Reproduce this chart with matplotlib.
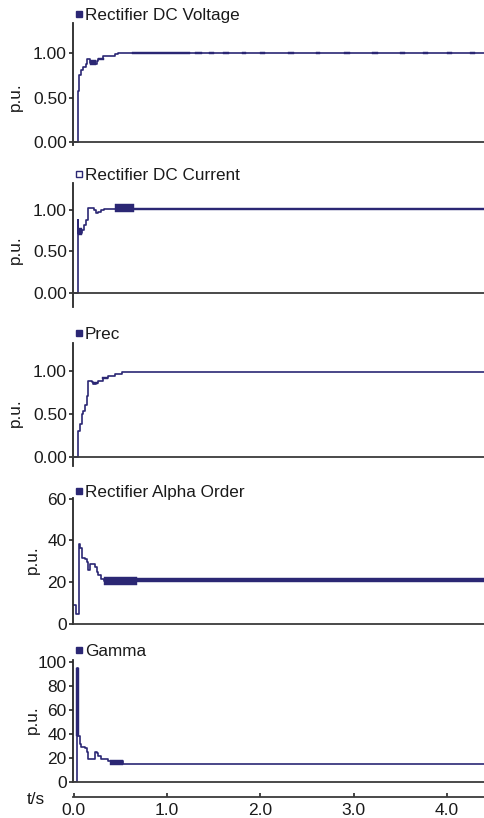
import matplotlib
matplotlib.use("Agg")
import matplotlib.pyplot as plt

plt.rcParams["font.family"] = ["Liberation Sans", "DejaVu Sans"]

NAVY = "#2b2774"
AXIS = "#262626"

# ---------------- data ----------------
titles = ["Rectifier DC Voltage", "Rectifier DC Current", "Prec",
          "Rectifier Alpha Order", "Gamma"]

vdc_t = [0, 0.04, 0.057, 0.075, 0.10, 0.125, 0.143, 0.172, 0.207, 0.243,
         0.261, 0.315, 0.44, 0.476, 4.4]
vdc_v = [0, 0.58, 0.75, 0.81, 0.84, 0.88, 0.93, 0.89, 0.88, 0.91,
         0.93, 0.966, 0.99, 1.0, 1.0]

idc_t = [0, 0.04, 0.046, 0.082, 0.111, 0.129, 0.147, 0.154, 0.218, 0.232,
         0.261, 0.286, 0.325, 4.4]
idc_v = [0, 0.88, 0.72, 0.76, 0.82, 0.88, 0.96, 1.02, 1.0, 0.96,
         0.98, 1.0, 1.01, 1.01]

prec_t = [0, 0.04, 0.046, 0.064, 0.082, 0.100, 0.118, 0.136, 0.147, 0.154,
          0.19, 0.207, 0.24, 0.261, 0.315, 0.368, 0.44, 0.511, 0.62, 4.4]
prec_v = [0, 0.17, 0.30, 0.38, 0.50, 0.53, 0.60, 0.71, 0.79, 0.88,
          0.87, 0.85, 0.86, 0.88, 0.92, 0.94, 0.96, 0.98, 0.99, 0.99]

alpha_t = [0, 0.025, 0.05, 0.065, 0.082, 0.118, 0.136, 0.147, 0.172, 0.225,
           0.243, 0.261, 0.29, 0.32, 4.4]
alpha_v = [9, 5, 38.5, 36.5, 31.5, 31, 29.5, 26, 28.5, 27.5,
           25, 23.5, 21.5, 20.8, 20.8]

gamma_t = [0, 0.03, 0.046, 0.064, 0.075, 0.118, 0.136, 0.154, 0.225, 0.243,
           0.261, 0.286, 0.365, 0.53, 4.4]
gamma_v = [0, 95, 38, 32, 29.5, 28, 25, 19, 25, 24,
           22, 19, 17.5, 15, 15]

# chattering segments: (t_start, t_end, low, high)
vdc_bands = [(0.17, 0.24, 0.87, 0.92), (0.26, 0.32, 0.92, 0.95),
             (0.62, 1.25, 0.99, 1.015),
             (1.30, 1.37, 0.99, 1.015), (1.45, 1.50, 0.99, 1.015),
             (1.60, 1.66, 0.99, 1.015), (1.80, 1.85, 0.99, 1.015),
             (2.00, 2.05, 0.99, 1.015), (2.30, 2.36, 0.99, 1.015),
             (2.60, 2.64, 0.99, 1.015), (2.90, 2.96, 0.99, 1.015),
             (3.20, 3.26, 0.99, 1.015), (3.50, 3.55, 0.99, 1.015),
             (3.75, 3.80, 0.99, 1.015), (4.00, 4.06, 0.99, 1.015),
             (4.25, 4.30, 0.99, 1.015)]
idc_bands = [(0.046, 0.082, 0.70, 0.78), (0.44, 0.64, 0.98, 1.07),
             (0.64, 4.4, 0.995, 1.02)]
prec_bands = [(0.207, 0.26, 0.84, 0.87), (0.30, 0.37, 0.90, 0.93)]
alpha_bands = [(0.32, 0.68, 18.5, 22.5), (0.68, 4.4, 20.0, 22.0)]
gamma_bands = [(0.026, 0.05, 38, 95), (0.386, 0.53, 14.5, 18)]

series_t = [vdc_t, idc_t, prec_t, alpha_t, gamma_t]
series_v = [vdc_v, idc_v, prec_v, alpha_v, gamma_v]
series_bands = [vdc_bands, idc_bands, prec_bands, alpha_bands, gamma_bands]

yticks = [[0, 0.5, 1.0], [0, 0.5, 1.0], [0, 0.5, 1.0],
          [0, 20, 40, 60], [0, 20, 40, 60, 80, 100]]
ytick_fmt = ["{:.2f}", "{:.2f}", "{:.2f}", "{:.0f}", "{:.0f}"]
xticks = [0, 1, 2, 3, 4]
xtick_labels = ["0.0", "1.0", "2.0", "3.0", "4.0"]

# ---------------- layout (pixels of the 484x818 canvas) ----------------
W, H = 484, 818
LEFT = 73
tops = [23, 182.7, 342.7, 498, 660]
bottoms = [145, 306.7, 466, 624, 782]
ylims = [(-0.03, 1.337), (-0.17, 1.33), (-0.104, 1.324), (0, 60.3), (0, 101.5)]
title_y = [15.5, 175, 334, 492, 651]
ylabel_xy = [(15, 97), (15, 250), (15, 413), (32, 560), (32, 720)]
hollow_marker = [False, True, False, False, False]


def fx(px):
    return px / W


def fy(py):
    return 1 - py / H


fig = plt.figure(figsize=(W / 100, H / 100), dpi=100)
fig.patch.set_facecolor("white")

for i in range(5):
    ax = fig.add_axes([fx(LEFT), fy(bottoms[i]), (W - LEFT) / W,
                       (bottoms[i] - tops[i]) / H])
    ax.set_xlim(-0.01, 4.40)
    ax.set_ylim(*ylims[i])

    ax.step(series_t[i], series_v[i], where="post", color=NAVY, lw=1.2)
    for t0, t1, lo, hi in series_bands[i]:
        ax.fill_between([t0, t1], [lo, lo], [hi, hi], color=NAVY, lw=0.3)

    for s in ["top", "right"]:
        ax.spines[s].set_visible(False)
    ax.spines["bottom"].set_position(("data", 0))
    ax.spines["bottom"].set_color("#3a3a3a")
    ax.spines["bottom"].set_linewidth(1.3)
    ax.spines["left"].set_color(AXIS)
    ax.spines["left"].set_linewidth(1.3)
    ax.set_xticks([])
    ax.set_yticks(yticks[i])
    ax.set_yticklabels([ytick_fmt[i].format(v) for v in yticks[i]])
    ax.tick_params(axis="y", direction="out", length=3, width=1.2,
                   color=AXIS, pad=1.5, labelsize=12.5, labelcolor="#1a1a1a")
    ax.patch.set_alpha(0)

    # series title with small square marker
    fig.text(fx(85), fy(title_y[i]), titles[i], fontsize=12.3,
             color="#1a1a1a", ha="left", va="center")
    fig.lines.append(plt.Line2D(
        [fx(79)], [fy(title_y[i] - 1.2)], transform=fig.transFigure,
        marker="s", markersize=4.6, color=NAVY,
        markerfacecolor="white" if hollow_marker[i] else NAVY,
        markeredgewidth=1.0))

    fig.text(fx(ylabel_xy[i][0]), fy(ylabel_xy[i][1]), "p.u.",
             rotation=90, fontsize=12.3, color="#1a1a1a",
             ha="center", va="center")

# shared time axis at the bottom
tax = fig.add_axes([fx(LEFT), fy(797), (W - LEFT) / W, 0.001])
tax.set_xlim(-0.01, 4.40)
for s in ["top", "right", "left"]:
    tax.spines[s].set_visible(False)
tax.spines["bottom"].set_color("#3a3a3a")
tax.spines["bottom"].set_linewidth(1.3)
tax.set_yticks([])
tax.set_xticks(xticks)
tax.set_xticklabels(xtick_labels)
tax.tick_params(axis="x", direction="in", length=3, width=1.2, color=AXIS,
                pad=4, labelsize=12.5, labelcolor="#1a1a1a")
tax.patch.set_alpha(0)

fig.text(fx(36), fy(800), "t/s", fontsize=12.3, color="#1a1a1a",
         ha="center", va="center")

fig.savefig("out.png", dpi=100)
